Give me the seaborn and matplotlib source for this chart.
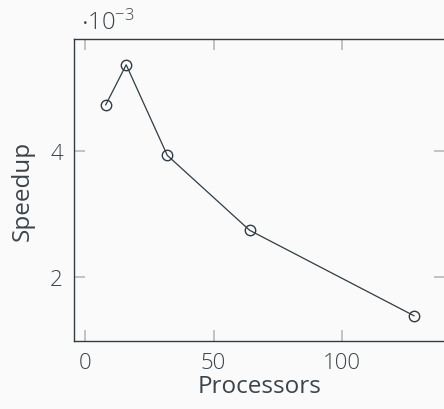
import matplotlib
matplotlib.use("Agg")
import matplotlib.pyplot as plt
import seaborn as sns
import pandas as pd

# Data
processors = [8, 16, 32, 64, 128]
speedup = [4.73e-3, 5.37e-3, 3.93e-3, 2.74e-3, 1.38e-3]

df = pd.DataFrame({"Processors": processors, "Speedup": speedup})

sns.set_style("ticks")
plt.rcParams["font.family"] = ["Open Sans", "DejaVu Sans"]
plt.rcParams["font.weight"] = "light"
plt.rcParams["mathtext.fontset"] = "custom"
plt.rcParams["mathtext.rm"] = "Open Sans:light"
plt.rcParams["mathtext.it"] = "Open Sans:light"

text_col = "#3b444b"
spine_col = "#2f3c44"
tick_col = "#b3b3b3"

fig = plt.figure(figsize=(4.44, 4.10), dpi=100, facecolor="#fafafa")
ax = fig.add_axes([74 / 444, 1 - 342 / 410, (445 - 74) / 444, (342 - 40) / 410])
ax.set_facecolor("#fafafa")

sns.lineplot(data=df, x="Processors", y="Speedup", ax=ax, color=spine_col,
             linewidth=0.9, marker="o", markersize=7.5, markerfacecolor="none",
             markeredgecolor=spine_col, markeredgewidth=1.0)

ax.set_xlim(-4.3, 140)
ax.set_ylim(0.98e-3, 5.78e-3)
ax.set_xticks([0, 50, 100])
ax.set_yticks([2e-3, 4e-3])
ax.yaxis.set_major_formatter(plt.FuncFormatter(lambda v, p: f"{v * 1e3:g}"))

ax.tick_params(direction="in", length=8, width=1.1, color=tick_col,
               top=True, right=True, labelsize=16, pad=8)
for lab in ax.get_xticklabels() + ax.get_yticklabels():
    lab.set_color(text_col)
for s in ax.spines.values():
    s.set_color(spine_col)
    s.set_linewidth(1.0)

ax.set_xlabel("Processors", fontsize=17.5, color=text_col, labelpad=1)
ax.set_ylabel("Speedup", fontsize=17.5, color=text_col, labelpad=11)

ax.text(0.02, 1.015, r"$\cdot 10^{-3}$", transform=ax.transAxes, fontsize=17,
        color=text_col, ha="left", va="bottom")

fig.savefig("out.png", dpi=100, facecolor=fig.get_facecolor())
